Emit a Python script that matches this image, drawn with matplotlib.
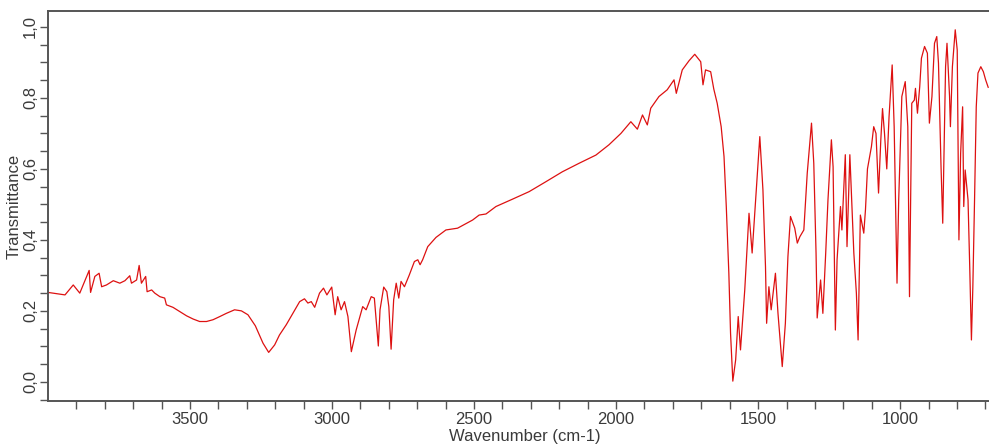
#!/usr/bin/env python3
"""IR transmittance spectrum, redrawn from a screenshot."""
import matplotlib

matplotlib.use("Agg")
import matplotlib.pyplot as plt
from matplotlib.ticker import FixedLocator, FuncFormatter, MultipleLocator


# Spectrum (cm-1, transmittance).
WAVENUMBER = [
    4000, 3940, 3911, 3888, 3855, 3850, 3835, 3820, 3811, 3794, 3770, 3747,
    3729, 3712, 3706, 3688, 3679, 3671, 3656, 3651, 3635, 3624, 3606, 3589,
    3583, 3560, 3536, 3512, 3489, 3466, 3442, 3419, 3395, 3372, 3343, 3319,
    3296, 3270, 3243, 3223, 3202, 3185, 3161, 3138, 3114, 3097, 3085, 3073,
    3061, 3044, 3030, 3018, 3001, 2989, 2980, 2968, 2956, 2944, 2932, 2915,
    2892, 2880, 2862, 2851, 2837, 2831, 2818, 2807, 2800, 2792, 2783, 2774,
    2765, 2757, 2745, 2728, 2710, 2698, 2690, 2681, 2663, 2634, 2599, 2558,
    2505, 2482, 2458, 2423, 2364, 2306, 2247, 2189, 2130, 2071, 2025, 1983,
    1948, 1925, 1907, 1890, 1878, 1849, 1820, 1796, 1788, 1767, 1743, 1723,
    1702, 1694, 1685, 1667, 1656, 1644, 1630, 1620, 1612, 1603, 1597, 1589,
    1579, 1570, 1562, 1547, 1532, 1521, 1505, 1494, 1483, 1474, 1470, 1462,
    1454, 1439, 1430, 1415, 1404, 1395, 1386, 1371, 1362, 1353, 1339, 1327,
    1312, 1304, 1296, 1292, 1280, 1272, 1262, 1254, 1242, 1236, 1228, 1222,
    1210, 1205, 1193, 1187, 1177, 1163, 1154, 1148, 1140, 1128, 1122, 1115,
    1101, 1093, 1085, 1076, 1068, 1062, 1055, 1047, 1039, 1028, 1021, 1011,
    1005, 994, 982, 973, 967, 959, 950, 946, 939, 931, 925, 914,
    904, 897, 888, 879, 871, 865, 856, 850, 840, 835, 826, 823,
    816, 806, 799, 793, 787, 780, 776, 771, 761, 755, 749, 744,
    738, 732, 726, 716, 707, 699, 690,
]
TRANSMITTANCE = [
    0.252, 0.245, 0.273, 0.250, 0.314, 0.252, 0.297, 0.306, 0.268, 0.273, 0.285, 0.278,
    0.285, 0.299, 0.278, 0.287, 0.328, 0.278, 0.297, 0.254, 0.259, 0.250, 0.240, 0.236,
    0.217, 0.210, 0.198, 0.186, 0.177, 0.170, 0.170, 0.175, 0.184, 0.193, 0.203, 0.200,
    0.189, 0.158, 0.109, 0.083, 0.104, 0.132, 0.161, 0.193, 0.226, 0.234, 0.222, 0.226,
    0.210, 0.250, 0.264, 0.245, 0.267, 0.189, 0.240, 0.203, 0.226, 0.184, 0.085, 0.146,
    0.212, 0.203, 0.240, 0.236, 0.101, 0.203, 0.267, 0.254, 0.212, 0.092, 0.231, 0.278,
    0.236, 0.283, 0.268, 0.301, 0.339, 0.344, 0.330, 0.344, 0.381, 0.407, 0.428, 0.433,
    0.456, 0.470, 0.473, 0.494, 0.515, 0.536, 0.564, 0.592, 0.616, 0.639, 0.668, 0.700,
    0.733, 0.712, 0.752, 0.724, 0.771, 0.804, 0.823, 0.851, 0.813, 0.879, 0.905, 0.923,
    0.902, 0.837, 0.879, 0.874, 0.825, 0.785, 0.719, 0.635, 0.494, 0.306, 0.137, 0.002,
    0.062, 0.184, 0.090, 0.259, 0.475, 0.363, 0.560, 0.691, 0.541, 0.325, 0.165, 0.268,
    0.203, 0.306, 0.193, 0.043, 0.165, 0.353, 0.466, 0.433, 0.391, 0.409, 0.428, 0.588,
    0.729, 0.616, 0.363, 0.180, 0.287, 0.193, 0.363, 0.513, 0.682, 0.606, 0.146, 0.344,
    0.494, 0.428, 0.640, 0.381, 0.640, 0.363, 0.250, 0.118, 0.470, 0.419, 0.485, 0.600,
    0.663, 0.719, 0.700, 0.532, 0.682, 0.770, 0.700, 0.600, 0.747, 0.893, 0.719, 0.278,
    0.513, 0.804, 0.846, 0.719, 0.240, 0.785, 0.794, 0.827, 0.757, 0.832, 0.912, 0.945,
    0.926, 0.729, 0.804, 0.954, 0.973, 0.898, 0.606, 0.447, 0.888, 0.954, 0.804, 0.719,
    0.888, 0.992, 0.935, 0.400, 0.644, 0.775, 0.494, 0.597, 0.513, 0.325, 0.118, 0.268,
    0.513, 0.775, 0.870, 0.888, 0.874, 0.851, 0.830,
]

X_LABELED = [3500, 3000, 2500, 2000, 1500, 1000]
X_MINOR = list(range(3900, 600, -100))

LINE_COLOR = "#dd1111"
FRAME_COLOR = "#555555"
TEXT_COLOR = "#3a3a3a"

plt.rcParams.update({
    "font.family": ["Liberation Sans", "DejaVu Sans"],
    "font.size": 12,
    "axes.linewidth": 1.4,
    "axes.edgecolor": FRAME_COLOR,
    "xtick.color": FRAME_COLOR,
    "ytick.color": FRAME_COLOR,
    "xtick.labelcolor": TEXT_COLOR,
    "ytick.labelcolor": TEXT_COLOR,
})


def comma(v, _pos):
    return f"{v:.1f}".replace(".", ",")


def main():
    fig = plt.figure(figsize=(9.89, 4.47), dpi=100)
    ax = fig.add_axes([0.0485, 0.1029, 0.9636, 0.8725])

    ax.plot(WAVENUMBER, TRANSMITTANCE, color=LINE_COLOR, linewidth=0.9)

    ax.set_xlim(4000, 645)
    ax.set_ylim(-0.054, 1.045)

    ax.xaxis.set_major_locator(FixedLocator(X_LABELED))
    ax.xaxis.set_minor_locator(FixedLocator(X_MINOR))
    ax.yaxis.set_major_locator(MultipleLocator(0.2))
    ax.yaxis.set_minor_locator(MultipleLocator(0.05))
    ax.yaxis.set_major_formatter(FuncFormatter(comma))

    ax.tick_params(which="both", direction="out", length=6, width=1.0)
    ax.tick_params(axis="x", pad=2)
    ax.tick_params(axis="y", pad=1)
    for lab in ax.get_yticklabels():
        lab.set_rotation(90)
        lab.set_va("center")

    ax.spines["right"].set_visible(False)

    ax.set_xlabel("Wavenumber (cm-1)", color=TEXT_COLOR, va="center")
    ax.xaxis.set_label_coords(0.5, -0.092)
    ax.set_ylabel("Transmittance", color=TEXT_COLOR, va="center")
    ax.yaxis.set_label_coords(-0.036, 0.5)

    fig.savefig("out.png", dpi=100)
    plt.close(fig)


if __name__ == "__main__":
    main()
